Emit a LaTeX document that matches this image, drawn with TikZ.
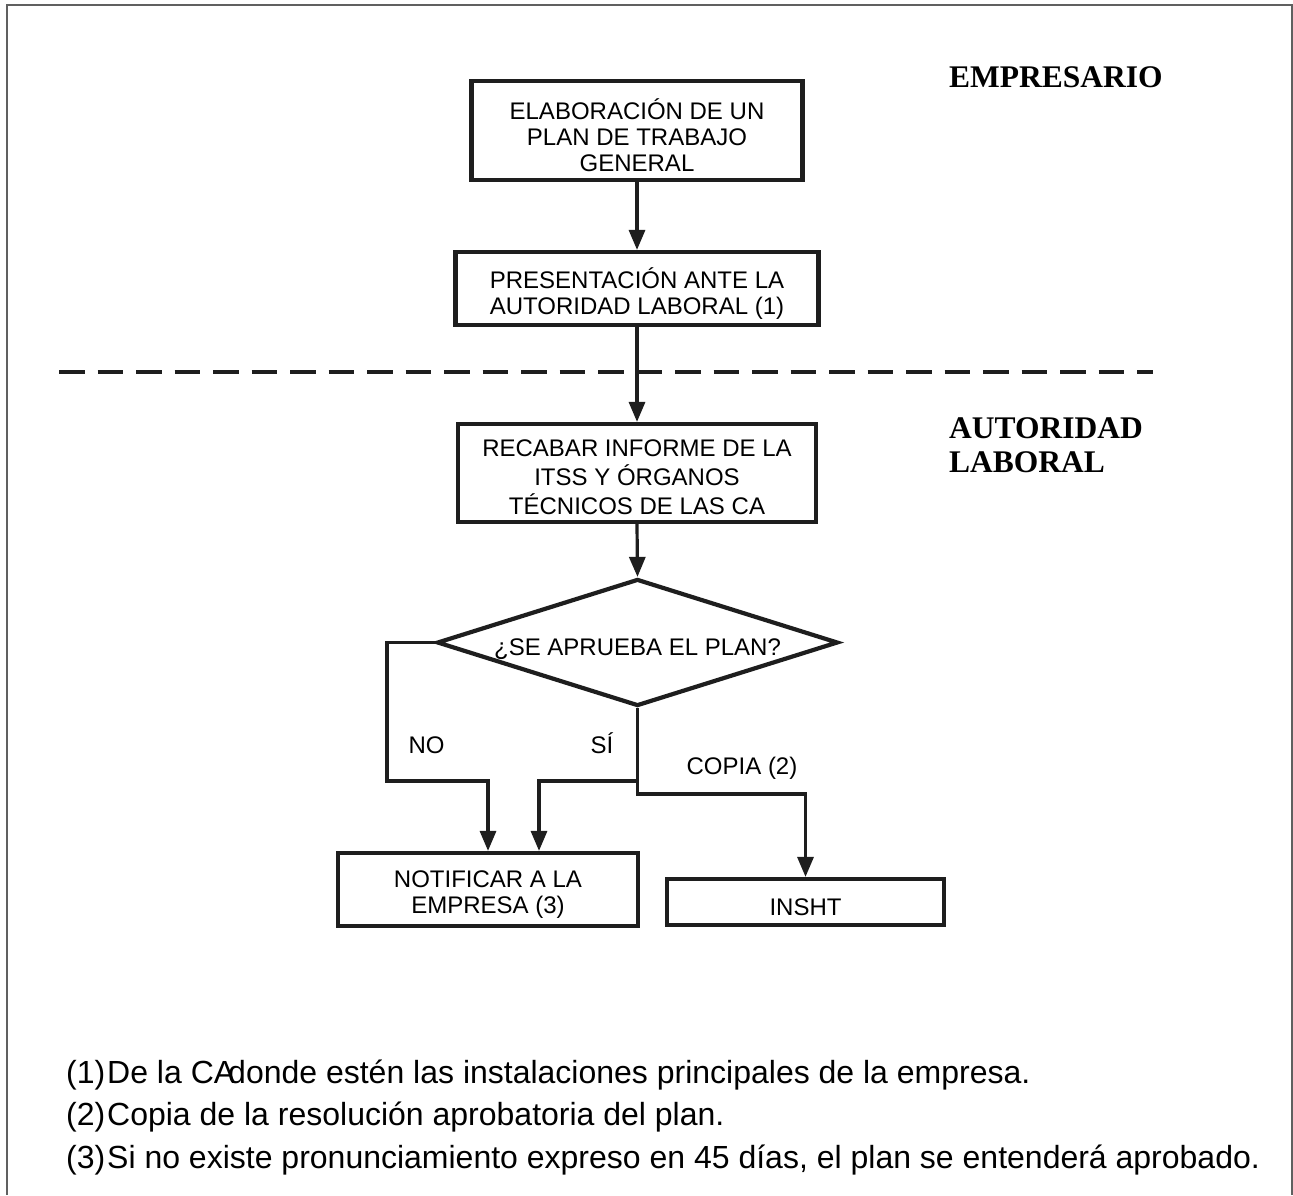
\documentclass[tikz,border=0pt]{standalone}
\usepackage{fontspec}
\setmainfont{Liberation Sans}
\newfontfamily\serifbold{Liberation Serif}
\usetikzlibrary{arrows.meta,shapes.geometric}
\definecolor{ink}{HTML}{1E1E1E}
\definecolor{framegray}{HTML}{606060}
\newcommand\boxlines[2]{\raisebox{#1}[\height][\depth]{\begin{tabular}{@{}c@{}}#2\end{tabular}}}
\tikzset{
  boxnode/.style={draw=ink, line width=4.2pt, rectangle, inner sep=0pt, align=center,
    font=\fontsize{24}{26}\selectfont},
  decnode/.style={draw=ink, line width=4.2pt, diamond, inner sep=0pt, aspect=3.16,
    minimum width=401pt, minimum height=127pt, font=\fontsize{24}{26}\selectfont},
  conn/.style={draw=ink, line width=3.2pt, line join=miter},
  arr/.style={conn, -{Triangle[length=20pt,width=16pt]}},
  lbl/.style={inner sep=0pt, anchor=base, font=\fontsize{24}{26}\selectfont},
  lane/.style={inner sep=0pt, anchor=base west, font=\serifbold\bfseries\fontsize{31.5}{34}\selectfont},
  note/.style={inner sep=0pt, anchor=base west, font=\fontsize{32}{43}\selectfont}
}
\begin{document}
\begin{tikzpicture}[x=1pt,y=-1pt]
\useasboundingbox (0,0) rectangle (1293,1195);
% frame (open at the bottom)
\draw[framegray, line width=2pt] (7,1195) -- (7,5) -- (1291.8,5) -- (1291.8,1195);
% lane separator
\draw[ink, line width=4pt, dash pattern=on 25.5pt off 13pt] (59,372) -- (1153,372);

% lane titles
\node[lane] (emp) at (949,87) {EMPRESARIO};
\node[lane] (aut1) at (949,438) {AUTORIDAD};
\node[lane] (aut2) at (949,472) {LABORAL};

% boxes
\node[boxnode, minimum width=331pt, minimum height=99pt] (b1) at (637,130.5)
  {\boxlines{-8pt}{ELABORACIÓN DE UN\\PLAN DE TRABAJO\\GENERAL}};
\node[boxnode, minimum width=363pt, minimum height=73pt] (b2) at (637,288.5)
  {\boxlines{-6pt}{PRESENTACIÓN ANTE LA\\AUTORIDAD LABORAL (1)}};
\node[boxnode, minimum width=358pt, minimum height=98pt, font=\fontsize{24}{27}\selectfont] (b3) at (637,473)
  {\boxlines{-7pt}{RECABAR INFORME DE LA\\ITSS Y ÓRGANOS\\TÉCNICOS DE LAS CA}};
\node[decnode] (d) at (637.5,642.5) {\boxlines{-8pt}{¿SE APRUEBA EL PLAN?}};
\node[boxnode, minimum width=300pt, minimum height=73pt] (notif) at (488,889.5)
  {\boxlines{-6pt}{NOTIFICAR A LA\\EMPRESA (3)}};
\node[boxnode, minimum width=277pt, minimum height=46pt] (insht) at (805.5,902)
  {\boxlines{-8pt}{INSHT}};

% helper coordinates
\coordinate (noX) at (387,0);
\coordinate (noA) at (488,0);
\coordinate (siA) at (539,0);
\coordinate (lvlA) at (0,781);
\coordinate (lvlB) at (0,794);

% connectors
\draw[arr] (b1.south) -- (b2.north);
\draw[arr] (b2.south) -- (b3.north);
\draw[arr] (b3.south) -- (d.north);
\draw[arr] (d.west) -- (d.west -| noX) -- (noX |- lvlA) -- (noA |- lvlA) -- (noA |- notif.north);
\draw[arr] (d.south) -- (d.south |- lvlA) -- (siA |- lvlA) -- (siA |- notif.north);
\draw[arr] (d.south |- lvlA) -- (d.south |- lvlB) -- (insht.north |- lvlB) -- (insht.north);

% branch labels
\node[lbl] (lno) at (426.5,753) {NO};
\node[lbl] (lsi) at (602,753) {SÍ};
\node[lbl] (lcopia) at (742,774) {COPIA (2)};

% footnotes
\node[note] (n1) at (66,1083) {(1)};
\node[note] (t1) at (107,1083) {De la CA\kern-7pt donde estén las instalaciones principales de la empresa.};
\node[note] (n2) at (66,1125.5) {(2)};
\node[note] (t2) at (107,1125.5) {Copia de la resolución aprobatoria del plan.};
\node[note] (n3) at (66,1168) {(3)};
\node[note] (t3) at (107,1168) {Si no existe pronunciamiento expreso en 45 días, el plan se entenderá aprobado.};
\end{tikzpicture}
\end{document}
